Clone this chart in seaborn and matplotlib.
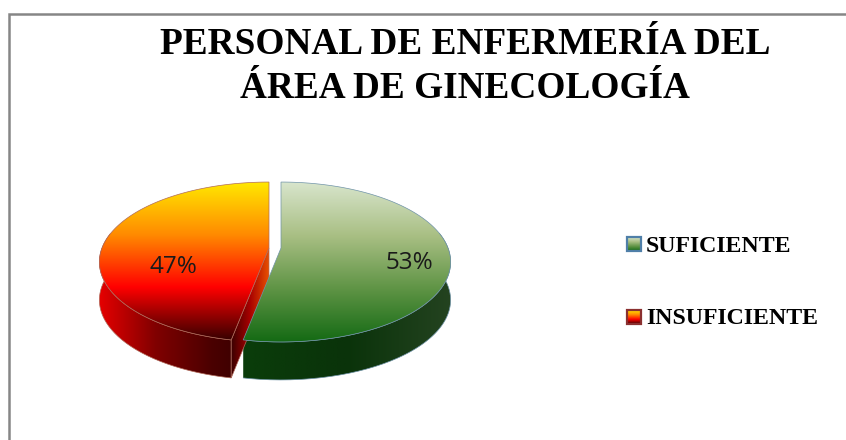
import numpy as np
import matplotlib
matplotlib.use("Agg")
import matplotlib.pyplot as plt
from matplotlib.patches import Polygon
import seaborn as sns

# Chart data
categories = ["SUFICIENTE", "INSUFICIENTE"]
shares = [53, 47]
pct_labels = ["53%", "47%"]
title_lines = ["PERSONAL DE ENFERMERÍA DEL", "ÁREA DE GINECOLOGÍA"]

# Gradients for the faces
top_colors = [
    ["#d8e5cc", "#a9bf84", "#5f9445", "#146a14"],
    ["#ffe800", "#ff8a00", "#ff0000", "#380000"],
]
side_colors = [
    ["#0a3d0a", "#0a330a", "#244320"],
    ["#e60000", "#800000", "#4a0000", "#2e0000"],
]
cut_colors = ["#3a0000", "#a80000", "#e85000"]
edge_colors = ["#6f93a8", "#b06a5a"]

# Pie geometry in pixels (x, y of wedge apex)
apex = [(281, 248), (269, 248)]
rx, ry, tilt, depth = 167, 77.5, 0.175, 38

sns.set_theme(style="white")
fig = plt.figure(figsize=(8.46, 4.40), dpi=100)
ax = fig.add_axes([0, 0, 1, 1])

# pie() gives the wedge angles, the wedges are then projected in perspective
wedges, _ = ax.pie(shares, startangle=90, counterclock=False)
angles = [(w.theta1, w.theta2) for w in wedges]
for w in wedges:
    w.set_visible(False)

ax.set_aspect("auto")
ax.set_xlim(0, 846)
ax.set_ylim(440, 0)
ax.axis("off")


def project(a, center):
    # a in degrees, screen y goes down
    u = np.cos(np.radians(a))
    v = -np.sin(np.radians(a))
    w = 1 - tilt * v
    return center[0] + rx * u / w, center[1] + ry * v / w


def gradient(poly, colors, box, vertical=True, zorder=2):
    cmap = sns.blend_palette(colors, as_cmap=True)
    ramp = np.linspace(0, 1, 256)
    ramp = ramp[:, None] if vertical else ramp[None, :]
    im = ax.imshow(ramp, cmap=cmap, extent=(box[0], box[1], box[3], box[2]),
                   aspect="auto", origin="upper", zorder=zorder)
    patch = Polygon(poly, closed=True, transform=ax.transData)
    im.set_clip_path(patch)


for i, (t1, t2) in enumerate(angles):
    c = apex[i]
    arc = np.linspace(t1, t2, 200)
    xs, ys = project(arc, c)

    # outer rim, only the part that faces the viewer
    front = ys > c[1] - 15
    rim = np.r_[np.c_[xs[front], ys[front]], np.c_[xs[front], ys[front] + depth][::-1]]
    gradient(rim, side_colors[i], (xs.min(), xs.max(), 170, 400), vertical=False)
    ax.plot(rim[:, 0], rim[:, 1], color=edge_colors[i], lw=0.5, zorder=2.5)

    # cut face of the red slice, theta2 is its front end
    if i == 1:
        px, py = project(t2, c)
        cut = [(px, py), c, (c[0], c[1] + depth), (px, py + depth)]
        gradient(cut, cut_colors, (px, c[0], 240, 390), vertical=False, zorder=3)
        ax.add_patch(Polygon(cut, closed=True, fill=False, ec=edge_colors[i], lw=0.5, zorder=3.5))

    # top face
    face = np.r_[[c], np.c_[xs, ys]]
    gradient(face, top_colors[i], (xs.min(), xs.max(), ys.min(), ys.max()), zorder=4)
    ax.add_patch(Polygon(face, closed=True, fill=False, ec=edge_colors[i], lw=0.5, zorder=4.5))

# Percent labels
ax.text(409, 263, pct_labels[0], ha="center", va="center", fontsize=17.5,
        family="Open Sans", color="#1a1a1a", zorder=6)
ax.text(173, 267, pct_labels[1], ha="center", va="center", fontsize=17.5,
        family="Open Sans", color="#1a1a1a", zorder=6)

# Title
for line, y in zip(title_lines, [45, 88]):
    ax.text(465, y, line, ha="center", va="center", fontsize=26.8, fontweight="bold",
            family="Liberation Serif", color="black")

# Legend
for i, (name, y) in enumerate(zip(categories, [244, 317])):
    box = [(626.5, y - 7), (640.5, y - 7), (640.5, y + 7), (626.5, y + 7)]
    gradient(box, top_colors[i], (626.5, 640.5, y - 7, y + 7), zorder=4)
    ax.add_patch(Polygon(box, closed=True, fill=False, ec="#8a3030" if i else "#4f7fa8", lw=1.6, zorder=5))
    ax.text(646, y + 2, name, ha="left", va="center", fontsize=17.2, fontweight="bold",
            family="Liberation Serif", color="black")

# Chart frame, cut off by the image on the right and bottom
ax.plot([9, 9, 846], [440, 14.5, 14.5], color="#868686", lw=1.8, solid_joinstyle="miter", zorder=1)

ax.set_xlim(0, 846)
ax.set_ylim(440, 0)
fig.savefig("out.png", dpi=100)
